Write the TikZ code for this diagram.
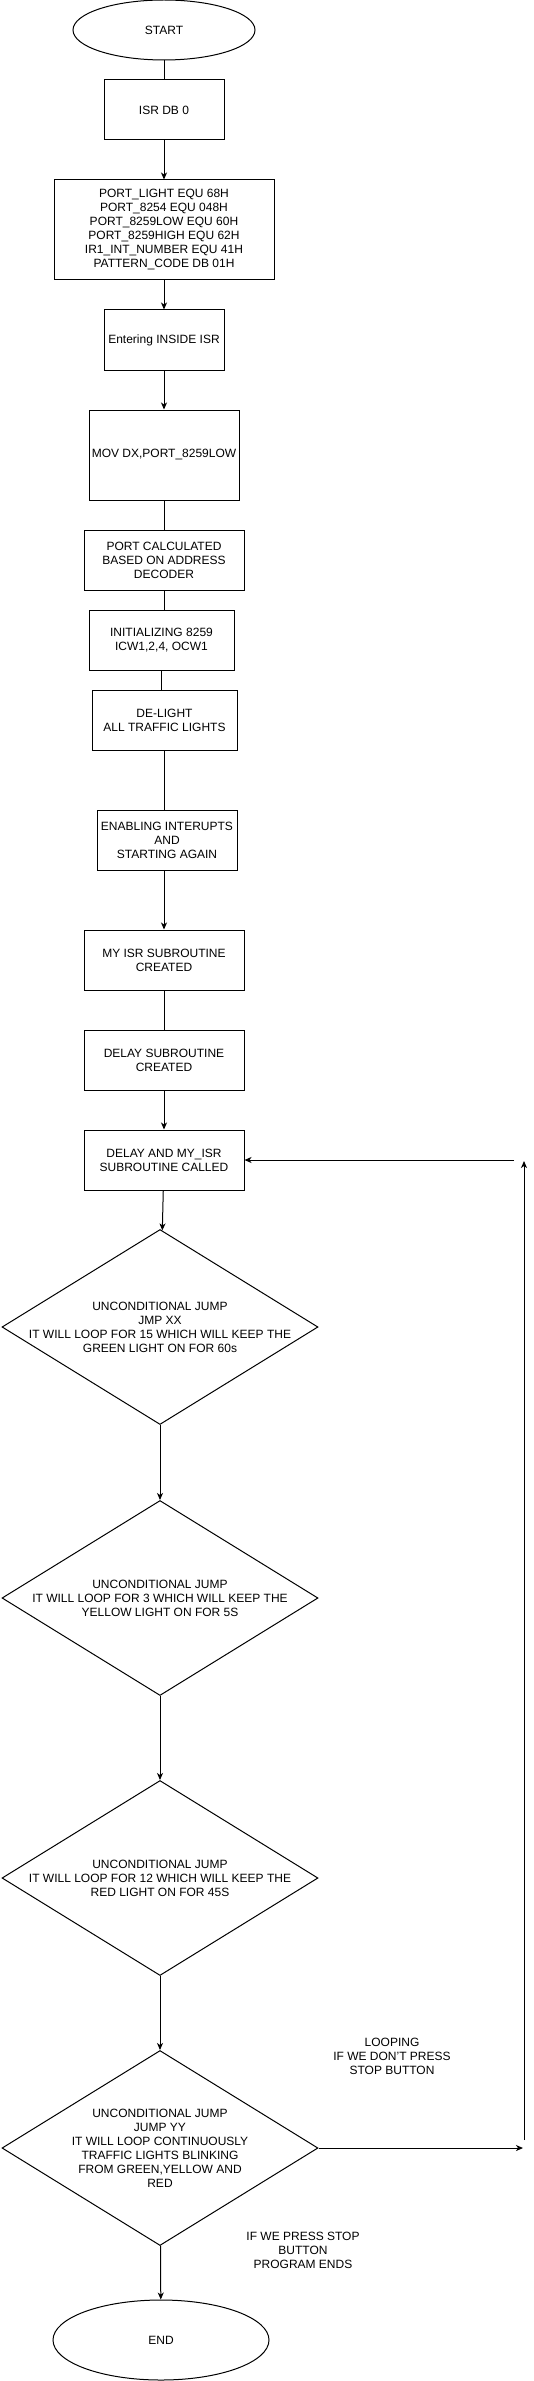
\documentclass[tikz,border=0pt]{standalone}
\usepackage{fontspec}
\setmainfont{Liberation Sans}
\usetikzlibrary{shapes.geometric,arrows.meta}

\begin{document}
\begin{tikzpicture}[x=1pt,y=-1pt,line width=1pt,
    >={Stealth[length=7pt,width=6pt,inset=2pt]},
    every node/.style={font=\fontsize{12}{14}\selectfont,align=center,inner sep=0pt}]

      \useasboundingbox (0,0) rectangle (533,2381);

      \begin{scope}[every node/.style={ellipse,draw,font=\fontsize{12}{14}\selectfont,inner sep=0pt}]
        \node[minimum width=182,minimum height=60] (1)  at (164,30)   {START};
        \node[minimum width=216,minimum height=80] (17) at (161,2340) {END};
      \end{scope}

      \begin{scope}[every node/.style={rectangle,draw,align=center,font=\fontsize{12}{14}\selectfont,inner sep=0pt}]
        \node[minimum width=120,minimum height=60]  (2)  at (164,110)   {ISR DB 0};
        \node[minimum width=220,minimum height=100] (3)  at (164,230)   {PORT\_LIGHT EQU 68H\\PORT\_8254 EQU 048H\\PORT\_8259LOW EQU 60H\\PORT\_8259HIGH EQU 62H\\IR1\_INT\_NUMBER EQU 41H\\PATTERN\_CODE DB 01H};
        \node[minimum width=120,minimum height=60]  (4)  at (164,340)   {Entering INSIDE ISR};
        \node[minimum width=150,minimum height=90]  (5)  at (164,455)   {MOV DX,PORT\_8259LOW};
        \node[minimum width=160,minimum height=60]  (6)  at (164,560)   {PORT CALCULATED\\BASED ON ADDRESS\\DECODER};
        \node[minimum width=145,minimum height=60]  (7)  at (161.5,640) {INITIALIZING 8259\\ICW1,2,4, OCW1};
        \node[minimum width=145,minimum height=60]  (8)  at (164.5,720) {DE-LIGHT\\ALL TRAFFIC LIGHTS};
        \node[minimum width=140,minimum height=60]  (9)  at (167,840)   {ENABLING INTERUPTS\\AND\\STARTING AGAIN};
        \node[minimum width=160,minimum height=60]  (10) at (164,960)   {MY ISR SUBROUTINE\\CREATED};
        \node[minimum width=160,minimum height=60]  (11) at (164,1060)  {DELAY SUBROUTINE\\CREATED};
        \node[minimum width=160,minimum height=60]  (12) at (164,1160)  {DELAY AND MY\_ISR\\SUBROUTINE CALLED};
      \end{scope}

      \begin{scope}[every node/.style={diamond,draw,minimum width=316,minimum height=195,inner sep=0pt},
          every label/.style={rectangle,draw=none,minimum width=0,minimum height=0,
            align=center,font=\fontsize{12}{14}\selectfont,inner sep=0pt}]
        \node[label=center:{UNCONDITIONAL JUMP\\JMP XX\\IT WILL LOOP FOR 15 WHICH WILL KEEP THE\\GREEN LIGHT ON FOR 60s}] (13) at (160,1327) {};
        \node[label=center:{UNCONDITIONAL JUMP\\IT WILL LOOP FOR 3 WHICH WILL KEEP THE\\YELLOW LIGHT ON FOR 5S}] (14) at (160,1598) {};
        \node[label=center:{UNCONDITIONAL JUMP\\IT WILL LOOP FOR 12 WHICH WILL KEEP THE\\RED LIGHT ON FOR 45S}] (15) at (160,1878) {};
        \node[label=center:{UNCONDITIONAL JUMP\\JUMP YY\\IT WILL LOOP CONTINUOUSLY\\TRAFFIC LIGHTS BLINKING\\FROM GREEN,YELLOW AND\\RED}] (16) at (160,2148) {};
      \end{scope}

      \node (loop) at (392,2056) {LOOPING\\IF WE DON'T PRESS\\STOP BUTTON};
      \node (stop) at (303,2250) {IF WE PRESS STOP\\BUTTON\\PROGRAM ENDS};

      \coordinate (a) at (523,2148);
      \coordinate (b) at (524,2140);
      \coordinate (c) at (524,1161);
      \coordinate (d) at (514,1160);

      \begin{scope}[every edge/.style={draw}]
        \path (1)  edge (2);
        \path (2)  edge[->] (3);
        \path (3)  edge[->] (4);
        \path (4)  edge[->] (5);
        \path (5)  edge (6);
        \path (6)  edge (6 |- 7.north);
        \path (7)  edge (7 |- 8.north);
        \path (8)  edge (8 |- 9.north);
        \path (9.south -| 10) edge[->] (10);
        \path (10) edge (11);
        \path (11) edge[->] (12);
        \path (12) edge[->] (13);
        \path (13) edge[->] (14);
        \path (14) edge[->] (15);
        \path (15) edge[->] (16);
        \path (16) edge[->] (17);
        \path (16) edge[->] (a);
        \path (b)  edge[->] (c);
        \path (d)  edge[->] (12);
      \end{scope}

    \end{tikzpicture}
\end{document}
